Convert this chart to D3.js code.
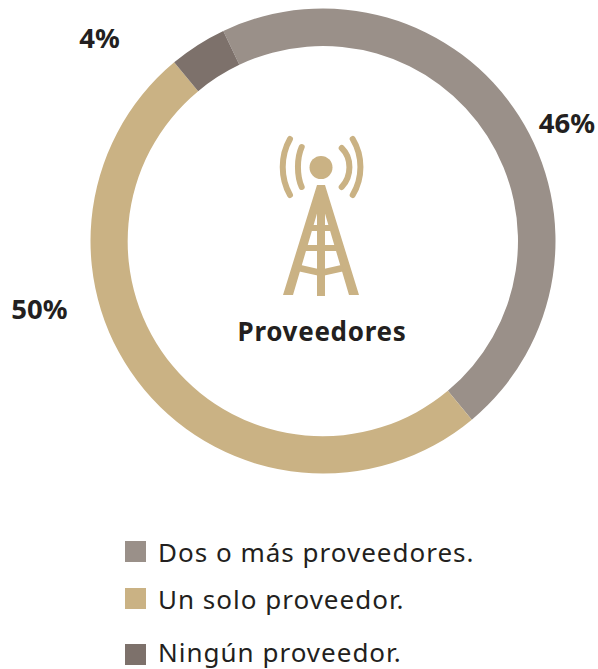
<!DOCTYPE html>
<html><head><meta charset="utf-8">
<script src="https://cdn.jsdelivr.net/npm/d3@7"></script>
<style>html,body{margin:0;padding:0;background:#fff}svg{display:block}text{font-family:"Noto Sans",sans-serif;fill:#231f20}</style>
</head><body><svg id="c" width="598" height="669"></svg>
<script>
const categories = ["Dos o más proveedores.","Un solo proveedor.","Ningún proveedor."];
const values = [46,50,4];
const valueLabels = ["46%","50%","4%"];
const colors = ["#9a9089","#cab284","#7d716b"];
const title = "Proveedores";

const svg = d3.select("#c");
const cx=323, cy=241, R=232.5, r=195;
const start=-25.4*Math.PI/180;
const pie=d3.pie().sort(null).startAngle(start).endAngle(start+2*Math.PI);
const arc=d3.arc().innerRadius(r).outerRadius(R);
const g=svg.append("g").attr("transform",`translate(${cx},${cy})`);
g.selectAll("path").data(pie(values)).join("path").attr("d",arc).attr("fill",(d,i)=>colors[i]);

const labelPos=[[567,123],[39.500,309],[99.500,38]];
svg.selectAll("text.v").data(valueLabels).join("text").attr("class","v")
 .attr("x",(d,i)=>labelPos[i][0]).attr("y",(d,i)=>labelPos[i][1])
 .attr("dy","0.36em").attr("text-anchor","middle").attr("font-size",27.500).attr("font-weight",700).text(d=>d);

svg.append("text").attr("x",322).attr("y",341).attr("text-anchor","middle").attr("font-size",26).attr("letter-spacing",0.7).attr("font-weight",700).text(title);

// tower icon
const ic=svg.append("g").attr("transform","translate(260,120)").attr("fill","none").attr("stroke",colors[1]).attr("stroke-linecap","round");
ic.append("circle").attr("cx",61).attr("cy",47.5).attr("r",11.5).attr("fill",colors[1]).attr("stroke","none");
ic.append("path").attr("stroke-width",6).attr("d","M41.700 27 C36.700 38 36.700 56 41.700 67 M81.700 28 C92 38 92 56 81.700 67");
ic.append("path").attr("stroke-width",6).attr("d","M30 19 C20.300 36 20.300 58 30 75 M92.700 19 C103 36 103 58 92.700 75");
const tw=ic.append("g").attr("stroke-linecap","butt");
tw.append("path").attr("fill",colors[1]).attr("stroke","none")
 .attr("d","M57 65 L65 65 L99 175 L89 175 L61 80 L33 175 L23 175 Z");
tw.append("rect").attr("x",57).attr("y",72).attr("width",8).attr("height",104).attr("fill",colors[1]).attr("stroke","none");
tw.append("path").attr("stroke-width",6).attr("d","M48 108 L74 108 M43 128 L79 128");
tw.append("path").attr("stroke-width",6.500).attr("d","M39 148 L61 153 L83 148");

// legend
const rectTop=[541,588,644];
const baseline=[562,609,662];
const leg=svg.selectAll("g.l").data(categories).join("g").attr("class","l");
leg.append("rect").attr("x",125).attr("y",(d,i)=>rectTop[i]).attr("width",21).attr("height",21).attr("fill",(d,i)=>colors[i]);
leg.append("text").attr("x",158).attr("y",(d,i)=>baseline[i]).attr("font-size",26).attr("letter-spacing",1).text(d=>d);
</script></body></html>
